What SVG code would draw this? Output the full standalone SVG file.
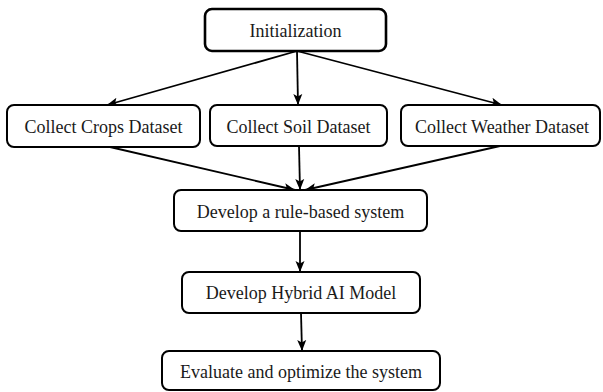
<svg xmlns="http://www.w3.org/2000/svg" width="603" height="392" viewBox="0 0 603 392">
<style>
.box{fill:#fff;stroke:#000;stroke-width:2}
.lbl{font-family:"Liberation Serif","Times New Roman",serif;font-size:18px;fill:#1a1a1a;text-anchor:middle;dominant-baseline:central}
.ln{stroke:#000;stroke-width:1.8;fill:none}
</style>
<defs>
<marker id="ah" markerUnits="userSpaceOnUse" markerWidth="12" markerHeight="12" viewBox="0 0 12 12" refX="11" refY="6" orient="auto">
<path d="M0,1.5 L11,6 L0,10.5 L2.5,6 Z" fill="#000"/>
</marker>
</defs>
<rect width="603" height="392" fill="#fff"/>
<g id="connectors">
<line class="ln" x1="297" y1="51" x2="107" y2="105" marker-end="url(#ah)"/>
<line class="ln" x1="297" y1="51" x2="298" y2="105" marker-end="url(#ah)"/>
<line class="ln" x1="297" y1="51" x2="502" y2="105" marker-end="url(#ah)"/>
<line class="ln" x1="110" y1="147" x2="295" y2="190" marker-end="url(#ah)"/>
<line class="ln" x1="299" y1="146" x2="300" y2="190" marker-end="url(#ah)"/>
<line class="ln" x1="500" y1="146" x2="305" y2="190" marker-end="url(#ah)"/>
<line class="ln" x1="300" y1="231" x2="300" y2="272" marker-end="url(#ah)"/>
<line class="ln" x1="301" y1="313" x2="302" y2="351" marker-end="url(#ah)"/>
</g>
<g id="init">
<rect class="box" x="205" y="9" width="181" height="42" rx="7" style="stroke-width:2.6"/>
<text class="lbl" x="295.5" y="31">Initialization</text>
</g>
<g id="crops">
<rect class="box" x="7" y="105" width="193" height="42" rx="7"/>
<text class="lbl" x="103.5" y="127">Collect Crops Dataset</text>
</g>
<g id="soil">
<rect class="box" x="210" y="105" width="177" height="41" rx="7"/>
<text class="lbl" x="298.5" y="126.5">Collect Soil Dataset</text>
</g>
<g id="weather">
<rect class="box" x="401" y="105" width="199" height="41" rx="7"/>
<text class="lbl" x="502" y="126.5">Collect Weather Dataset</text>
</g>
<g id="rule">
<rect class="box" x="174" y="190" width="253" height="41" rx="7"/>
<text class="lbl" x="300.5" y="211.5">Develop a rule-based system</text>
</g>
<g id="hybrid">
<rect class="box" x="182" y="272" width="238" height="41" rx="7"/>
<text class="lbl" x="301" y="293">Develop Hybrid AI Model</text>
</g>
<g id="evaluate">
<rect class="box" x="162" y="351" width="278" height="39" rx="7"/>
<text class="lbl" x="301" y="372">Evaluate and optimize the system</text>
</g>
</svg>
